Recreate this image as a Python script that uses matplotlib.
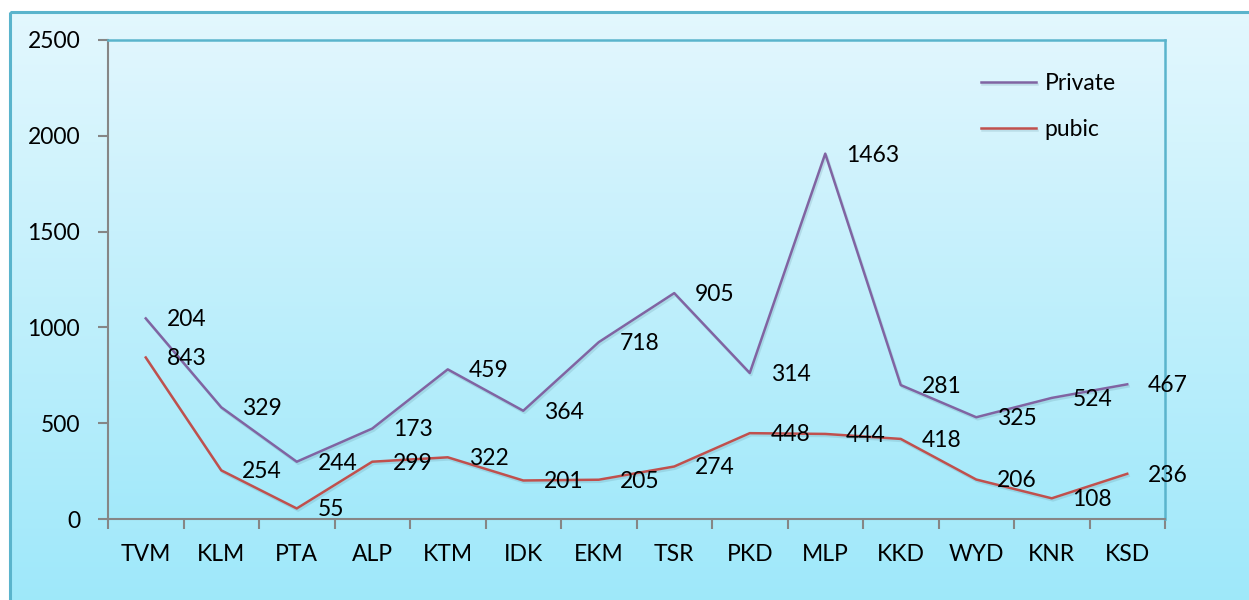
import numpy as np
import matplotlib.pyplot as plt
import matplotlib.patheffects as pe
from matplotlib.patches import Rectangle

districts = ["TVM", "KLM", "PTA", "ALP", "KTM", "IDK", "EKM",
             "TSR", "PKD", "MLP", "KKD", "WYD", "KNR", "KSD"]
pubic = [843, 254, 55, 299, 322, 201, 205, 274, 448, 444, 418, 206, 108, 236]
private = [204, 329, 244, 173, 459, 364, 718, 905, 314, 1463, 281, 325, 524, 467]

plt.rcParams['font.family'] = ['Lato', 'DejaVu Sans']
FS = 16.5

W, H = 1249, 600
fig = plt.figure(figsize=(W / 100, H / 100), dpi=100)
fig.patch.set_facecolor('white')

# chart area background with vertical gradient
bg = fig.add_axes([0, 0, 1, 1], zorder=0)
bg.set_xlim(0, W)
bg.set_ylim(H, 0)
bg.axis('off')
grad = np.linspace(0, 1, 256).reshape(-1, 1)
top = np.array([0.89, 0.97, 0.995])
bot = np.array([0.62, 0.91, 0.98])
img = top + (bot - top) * grad[..., None]
bg.imshow(img, extent=[10, W + 5, H + 5, 12], aspect='auto')
bg.add_patch(Rectangle((10, 12), W, H, fill=False, edgecolor='#5ab4cc', lw=2.2))

# plot area
L, T, R, B = 108, 40, 1165, 519
ax = fig.add_axes([L / W, 1 - B / H, (R - L) / W, (B - T) / H], zorder=1)
ax.patch.set_alpha(0)
n = len(districts)
ax.set_xlim(0, n)
ax.set_ylim(0, 2500)
top2 = np.array([0.88, 0.965, 0.995])
bot2 = np.array([0.64, 0.915, 0.98])
img2 = top2 + (bot2 - top2) * grad[..., None]
ax.imshow(img2, extent=[0, n, 0, 2500], aspect='auto', zorder=0)

x = np.arange(n) + 0.5
cum = np.array(pubic) + np.array(private)
shadow = [pe.SimpleLineShadow(offset=(1, -1.5), shadow_color='#5a8a9a', alpha=0.2),
          pe.Normal()]
ax.plot(x, cum, color='#8064a2', lw=1.8, label='Private', path_effects=shadow, zorder=3)
ax.plot(x, pubic, color='#c0504d', lw=1.8, label='pubic', path_effects=shadow, zorder=3)

for xi, yi, v in zip(x, cum, private):
    ax.annotate(str(v), (xi, yi), xytext=(15, -1), textcoords='offset points',
                ha='left', va='center', fontsize=FS, zorder=4)
for xi, yi, v in zip(x, pubic, pubic):
    ax.annotate(str(v), (xi, yi), xytext=(15, -1), textcoords='offset points',
                ha='left', va='center', fontsize=FS, zorder=4)

ax.set_xticks(np.arange(n + 1))
ax.set_xticklabels([])
ax.set_xticks(x, minor=True)
ax.set_xticklabels(districts, minor=True, fontsize=FS)
ax.tick_params(axis='x', which='minor', length=0, pad=18)
ax.tick_params(axis='x', which='major', length=7, color='#868686', width=1.5)
ax.set_yticks(np.arange(0, 2501, 500))
ax.tick_params(axis='y', length=7, color='#868686', width=1.5, pad=13, labelsize=FS)

for s in ['left', 'bottom']:
    ax.spines[s].set_color('#868686')
    ax.spines[s].set_linewidth(1.5)
for s in ['top', 'right']:
    ax.spines[s].set_color('#5ab4cc')
    ax.spines[s].set_linewidth(1.8)

leg = ax.legend(loc='upper left', bbox_to_anchor=(0.806, 0.975), frameon=False,
                fontsize=FS, handlelength=2.4, handletextpad=0.4, labelspacing=1.1)

fig.savefig('out.png', dpi=100)
